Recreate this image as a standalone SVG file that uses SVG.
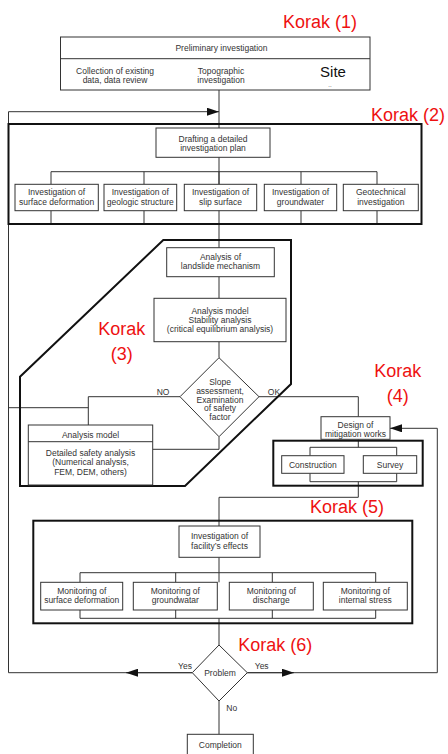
<svg xmlns="http://www.w3.org/2000/svg" width="448" height="754" viewBox="0 0 448 754">
<style>
.bg{fill:#fff}
.box{fill:#fff;stroke:#333;stroke-width:1}
.thick{fill:none;stroke:#111;stroke-width:2}
.ln{fill:none;stroke:#333;stroke-width:1}
text{font-family:"Liberation Sans",Arial,sans-serif;fill:#333;font-size:8.5px;text-anchor:middle}
.k{fill:#ee1111;font-size:18px}
.ks{fill:#ee1111;font-size:18px;text-anchor:start}
</style>
<defs>
<marker id="ah" viewBox="0 0 12 8" refX="12" refY="4" markerWidth="12" markerHeight="8" markerUnits="userSpaceOnUse" orient="auto">
<path d="M0,0 L12,4 L0,8 Z" fill="#111"/>
</marker>
</defs>
<rect class="bg" x="0" y="0" width="448" height="754"/>

<g id="connectors">
<path class="ln" d="M219,90 V128"/>
<path class="ln" d="M8.5,672.7 V111.7 H219" marker-end="url(#ah)"/>
<path class="ln" d="M219,157 V248"/>
<path class="ln" d="M51,171.7 H377 M51,171.7 V184.3 M144,171.7 V184.3 M301,171.7 V184.3 M377,171.7 V184.3 M219,171.7 V184.3"/>
<path class="ln" d="M51,210.7 V224 M144,210.7 V224 M301,210.7 V224 M377,210.7 V224"/>
<path class="ln" d="M219,276.7 V298.3 M219,341.7 V357.7"/>
<path class="ln" d="M180,396.7 H88.3 V425 M8.5,407.7 H88.3"/>
<path class="ln" d="M219,436.7 V449.3 H152.7"/>
<path class="ln" d="M259,396.7 H358.3 V416.7"/>
<path class="ln" d="M437.3,672.7 V428.3 H390" marker-end="url(#ah)"/>
<path class="ln" d="M358.3,439.3 V447.3 M310,447.3 H396.7 M310,447.3 V455.7 M396.7,447.3 V455.7"/>
<path class="ln" d="M310,473.3 V481.7 H396.7 V473.3 M358.3,481.7 V497.3 H219 V526"/>
<path class="ln" d="M219,557.3 V582.3 M80,572.7 H375.7 M80,572.7 V582.3 M175.7,572.7 V582.3 M272.3,572.7 V582.3 M375.7,572.7 V582.3"/>
<path class="ln" d="M80,610 V618.3 H375.7 V610 M175.7,610 V618.3 M272.3,610 V618.3 M219,618.3 V645"/>
<path class="ln" d="M192.3,672.7 H8.5"/>
<path class="ln" d="M192.3,672.7 H126" marker-end="url(#ah)"/>
<path class="ln" d="M247.3,672.7 H437.3"/>
<path class="ln" d="M247.3,672.7 H294" marker-end="url(#ah)"/>
<path class="ln" d="M219,701 V734.3"/>
</g>

<g id="korak1">
<rect class="box" x="60.5" y="37" width="309.5" height="53"/>
<path class="ln" d="M60.5,58.7 H370"/>
<text x="221.5" y="50.5">Preliminary investigation</text>
<text x="115" y="74">Collection of existing</text>
<text x="115" y="83">data, data review</text>
<text x="221" y="74">Topographic</text>
<text x="221" y="83">investigation</text>
<text x="333" y="77" style="font-size:15px;fill:#111">Site</text>
<text x="330" y="86.5" style="font-size:6px;fill:#111">..</text>
<text class="ks" x="283" y="28">Korak (1)</text>
</g>

<g id="korak2">
<rect class="thick" x="8.5" y="124" width="413" height="100"/>
<text class="ks" x="371" y="120.5">Korak (2)</text>
</g>
<g id="drafting">
<rect class="box" x="156" y="128" width="114" height="29.3"/>
<text x="213" y="141.5">Drafting a detailed</text>
<text x="213" y="151">investigation plan</text>
</g>
<g id="inv1">
<rect class="box" x="15" y="184.3" width="83.3" height="26.4"/>
<text x="56.6" y="195">Investigation of</text>
<text x="56.6" y="204.5">surface deformation</text>
</g>
<g id="inv2">
<rect class="box" x="104" y="184.3" width="72.7" height="26.4"/>
<text x="140.3" y="195">Investigation of</text>
<text x="140.3" y="204.5">geologic structure</text>
</g>
<g id="inv3">
<rect class="box" x="184.3" y="184.3" width="72.4" height="26.4"/>
<text x="220.5" y="195">Investigation of</text>
<text x="220.5" y="204.5">slip surface</text>
</g>
<g id="inv4">
<rect class="box" x="264.3" y="184.3" width="72.4" height="26.4"/>
<text x="300.5" y="195">Investigation of</text>
<text x="300.5" y="204.5">groundwater</text>
</g>
<g id="inv5">
<rect class="box" x="343.3" y="184.3" width="75" height="26.4"/>
<text x="380.8" y="195">Geotechnical</text>
<text x="380.8" y="204.5">investigation</text>
</g>

<g id="korak3">
<path class="thick" d="M163.3,240 H291 V384 L185,486 H20 V376.7 Z"/>
<text class="k" x="121.7" y="335">Korak</text>
<text class="k" x="121.7" y="360">(3)</text>
</g>
<g id="mechanism">
<rect class="box" x="166.7" y="247.7" width="107.6" height="29"/>
<text x="220.5" y="259.5">Analysis of</text>
<text x="220.5" y="269">landslide mechanism</text>
</g>
<g id="stability">
<rect class="box" x="154" y="298.3" width="132" height="43.4"/>
<text x="220" y="313.5">Analysis model</text>
<text x="220" y="322.5">Stability analysis</text>
<text x="220" y="331.5">(critical equilibrium analysis)</text>
</g>
<g id="slope">
<path class="box" d="M219,357.7 L259,396.7 L219,436.7 L180,396.7 Z"/>
<text x="220" y="385">Slope</text>
<text x="220" y="394">assessment,</text>
<text x="220" y="402.5">Examination</text>
<text x="220" y="411">of safety</text>
<text x="220" y="420">factor</text>
<text x="163" y="394.5">NO</text>
<text x="274" y="394.5">OK</text>
</g>
<g id="detailed">
<rect class="box" x="28.3" y="425" width="124.4" height="60"/>
<path class="ln" d="M28.3,441.7 H152.7"/>
<text x="90.5" y="437.5">Analysis model</text>
<text x="90.5" y="455.5">Detailed safety analysis</text>
<text x="90.5" y="465">(Numerical analysis,</text>
<text x="90.5" y="474.5">FEM, DEM, others)</text>
</g>

<g id="korak4">
<rect class="thick" x="273.3" y="440.7" width="149.4" height="45"/>
<text class="k" x="397.7" y="376.7">Korak</text>
<text class="k" x="397.7" y="401.7">(4)</text>
</g>
<g id="design">
<rect class="box" x="321" y="416.7" width="69" height="22.6"/>
<text x="355.5" y="427.5">Design of</text>
<text x="355.5" y="436.5">mitigation works</text>
</g>
<g id="construction">
<rect class="box" x="281.7" y="455.7" width="62.3" height="17.6"/>
<text x="312.8" y="467.5">Construction</text>
</g>
<g id="survey">
<rect class="box" x="363.3" y="455.7" width="53.4" height="17.6"/>
<text x="390" y="467.5">Survey</text>
</g>

<g id="korak5">
<rect class="thick" x="33.3" y="520.7" width="379" height="102.6"/>
<text class="ks" x="310" y="513.3">Korak (5)</text>
</g>
<g id="facility">
<rect class="box" x="179" y="526" width="81" height="31.3"/>
<text x="219.5" y="539">Investigation of</text>
<text x="219.5" y="549">facility’s effects</text>
</g>
<g id="mon1">
<rect class="box" x="40.7" y="582.3" width="82" height="27.7"/>
<text x="81.7" y="593.5">Monitoring of</text>
<text x="81.7" y="603">surface deformation</text>
</g>
<g id="mon2">
<rect class="box" x="133.3" y="582.3" width="84" height="27.7"/>
<text x="175.3" y="593.5">Monitoring of</text>
<text x="175.3" y="603">groundwatar</text>
</g>
<g id="mon3">
<rect class="box" x="229.3" y="582.3" width="84" height="27.7"/>
<text x="271.3" y="593.5">Monitoring of</text>
<text x="271.3" y="603">discharge</text>
</g>
<g id="mon4">
<rect class="box" x="323.3" y="582.3" width="84" height="27.7"/>
<text x="365.3" y="593.5">Monitoring of</text>
<text x="365.3" y="603">internal stress</text>
</g>

<g id="problem">
<path class="box" d="M219,645 L247.3,672.7 L219,701 L192.3,672.7 Z"/>
<text x="220" y="676">Problem</text>
<text x="185" y="669">Yes</text>
<text x="261.7" y="669">Yes</text>
<text x="231.7" y="711">No</text>
<text class="ks" x="238.3" y="651">Korak (6)</text>
</g>
<g id="completion">
<rect class="box" x="187.3" y="734.3" width="66" height="25"/>
<text x="220.3" y="748">Completion</text>
</g>
</svg>
